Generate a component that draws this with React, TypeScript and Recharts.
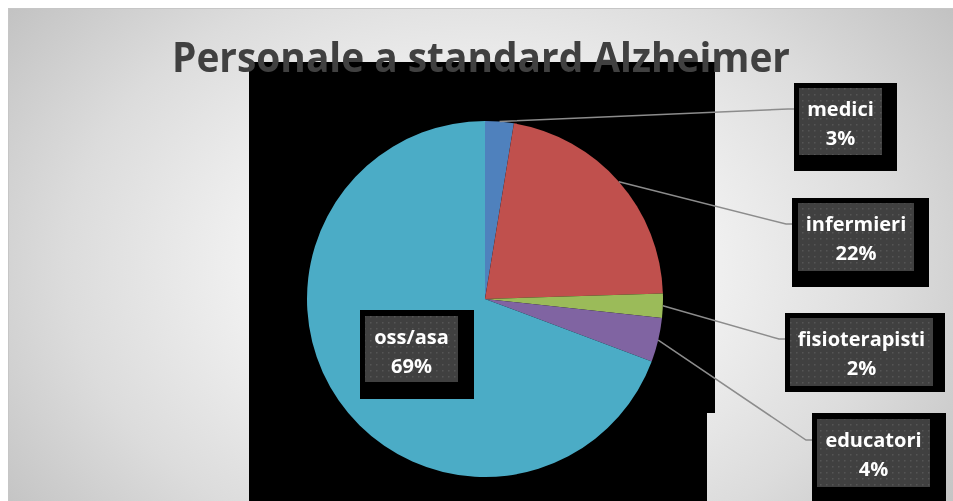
import { Cell, Pie, PieChart } from "recharts";

const categories = ["medici", "infermieri", "fisioterapisti", "educatori", "oss/asa"];
const shares = [2.6, 21.9, 2.2, 4.0, 69.3];
const colors = ["#4F81BD", "#C0504D", "#9BBB59", "#8064A2", "#4BACC6"];

const data = categories.map((name, i) => ({ name, value: shares[i] }));

const W = 945;
const H = 493;
const RAD = Math.PI / 180;

// label boxes: inner dotted box + black backing box (chart coords)
const boxes = [
  { inner: [791, 80, 83, 67], outer: [786, 75, 103, 88] },
  { inner: [790, 195, 116, 68], outer: [784, 190, 137, 89] },
  { inner: [782, 310, 143, 68], outer: [777, 305, 160, 79] },
  { inner: [809, 411, 113, 68], outer: [804, 405, 134, 90] },
  { inner: [357, 308, 93, 66], outer: [352, 302, 114, 89] },
];

function renderLabel(props: any) {
  const { cx, cy, midAngle, outerRadius, index, percent, name } = props;
  const b = boxes[index];
  const [ix, iy, iw, ih] = b.inner;
  const [ox, oy, ow, oh] = b.outer;
  const sx = cx + outerRadius * Math.cos(-midAngle * RAD);
  const sy = cy + outerRadius * Math.sin(-midAngle * RAD);
  const ey = iy + 21;
  const inside = index === 4;
  const pid = `dots-${index}`;
  return (
    <g key={`lbl-${index}`}>
      <defs>
        <pattern id={pid} width={6} height={6} patternUnits="userSpaceOnUse">
          <rect width={6} height={6} fill="#404040" />
          <rect x={2} y={2} width={1.5} height={1.5} fill="#555555" />
        </pattern>
      </defs>
      {!inside && (
        <polyline
          points={`${sx},${sy} ${ox - 6},${ey} ${ox},${ey}`}
          fill="none"
          stroke="#8c8c8c"
          strokeWidth={1.5}
        />
      )}
      <rect x={ox} y={oy} width={ow} height={oh} fill="#000" />
      <rect x={ix} y={iy} width={iw} height={ih} fill={`url(#${pid})`} />
      <text
        x={ix + iw / 2}
        y={iy + 28}
        textAnchor="middle"
        fill="#ffffff"
        fontFamily="'Open Sans', sans-serif"
        fontWeight={700}
        fontSize={20}
      >
        {name}
      </text>
      <text
        x={ix + iw / 2}
        y={iy + 57}
        textAnchor="middle"
        fill="#ffffff"
        fontFamily="'Open Sans', sans-serif"
        fontWeight={700}
        fontSize={20}
      >
        {`${Math.round(percent * 100)}%`}
      </text>
    </g>
  );
}

export default function App() {
  return (
    <div
      style={{
        position: "fixed",
        left: 8,
        top: 8,
        width: W + 20,
        height: H + 20,
        overflow: "hidden",
        boxSizing: "border-box",
        borderTop: "1px solid #c6c6c6",
        borderLeft: "1px solid #c6c6c6",
        background:
          "radial-gradient(ellipse 590px 430px at 470px 255px, #fbfbfb 0%, #f3f3f3 35%, #dcdcdc 70%, #c2c2c2 100%)",
      }}
    >
      {/* black plot backdrop */}
      <div style={{ position: "absolute", left: 240, top: 53, width: 466, height: 351, background: "#000" }} />
      <div style={{ position: "absolute", left: 240, top: 404, width: 458, height: 120, background: "#000" }} />

      <div style={{ position: "absolute", left: -1, top: -1 }}>
        <PieChart width={W} height={H} margin={{ top: 0, right: 0, bottom: 0, left: 0 }}>
          <Pie
            data={data}
            dataKey="value"
            nameKey="name"
            cx={477}
            cy={291}
            outerRadius={178}
            startAngle={90}
            endAngle={-270}
            stroke="none"
            label={renderLabel}
            labelLine={false}
            isAnimationActive={false}
          >
            {data.map((d, i) => (
              <Cell key={d.name} fill={colors[i]} />
            ))}
          </Pie>
        </PieChart>
      </div>

      <svg
        width={W}
        height={H}
        style={{ position: "absolute", left: -1, top: -1, pointerEvents: "none" }}
      >
        <text
          x={164}
          y={64}
          textLength={618}
          lengthAdjust="spacingAndGlyphs"
          fill="#404040"
          fontFamily="'Open Sans', sans-serif"
          fontWeight={700}
          fontSize={41}
        >
          Personale a standard Alzheimer
        </text>
      </svg>
    </div>
  );
}
